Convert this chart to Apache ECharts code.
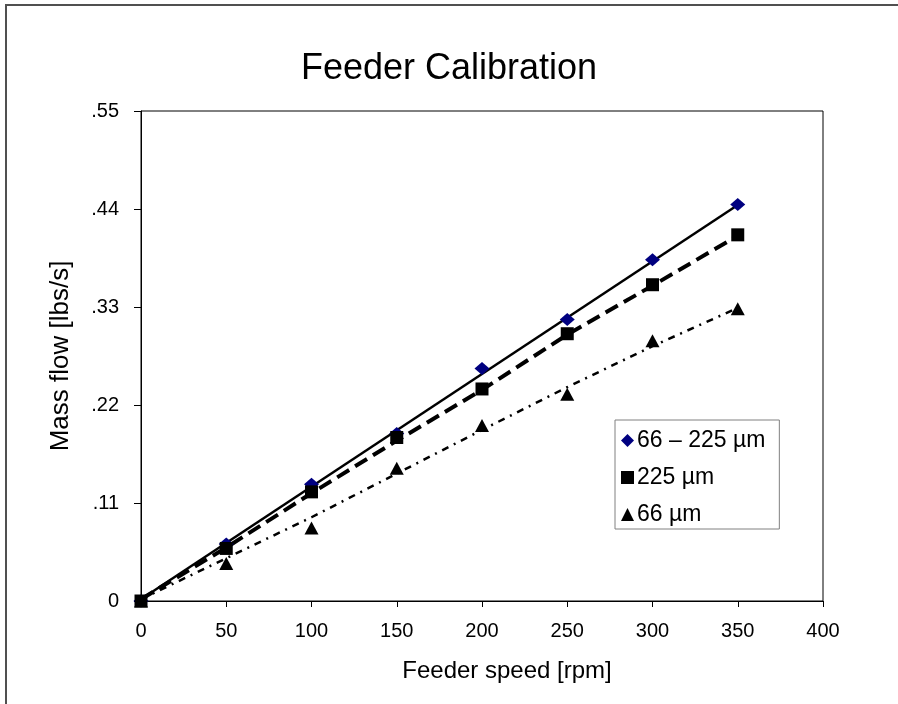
<!DOCTYPE html>
<html>
<head>
<meta charset="utf-8">
<script src="https://cdn.jsdelivr.net/npm/echarts@6/dist/echarts.min.js"></script>
<style>
  html, body { margin: 0; padding: 0; background: #fff; }
  #chart { width: 898px; height: 704px; }
</style>
</head>
<body>
<div id="chart"></div>
<script>
// ---- data ----
const speeds = [0, 50, 100, 150, 200, 250, 300, 350];            // Feeder speed [rpm]
const flowMixed = [0.000, 0.064, 0.131, 0.188, 0.261, 0.316, 0.383, 0.445]; // 66 – 225 µm
const flow225 = [0.000, 0.059, 0.1225, 0.1835, 0.238, 0.300, 0.355, 0.411]; // 225 µm
const flow66 = [0.000, 0.042, 0.082, 0.149, 0.197, 0.232, 0.292, 0.328];    // 66 µm
// trend lines as drawn in the picture
const trendMixedX = [0, 350];
const trendMixedY = [0.002, 0.4445];
const trend225 = [0.002, 0.060, 0.121, 0.180, 0.237, 0.299, 0.354, 0.410];
const trend66 = [0.002, 0.048, 0.094, 0.143, 0.192, 0.240, 0.286, 0.329];
const yTickLabels = ['0', '.11', '.22', '.33', '.44', '.55'];
const seriesNames = ['66 – 225 µm', '225 µm', '66 µm'];

const pairs = (xs, ys) => xs.map((x, i) => [x, ys[i]]);
const FONT = 'Liberation Sans, Arial, sans-serif';

const chart = echarts.init(document.getElementById('chart'), null, { renderer: 'canvas' });
chart.setOption({
  backgroundColor: '#ffffff',
  animation: false,
  textStyle: { fontFamily: FONT, color: '#000' },
  title: {
    text: 'Feeder Calibration',
    left: 'center',
    top: 46,
    textStyle: { fontFamily: FONT, fontSize: 36, fontWeight: 'normal', color: '#000' }
  },
  graphic: [{
    type: 'rect',
    shape: { x: 6, y: 5, width: 1200, height: 1200 },
    style: { fill: 'none', stroke: '#505050', lineWidth: 2 },
    silent: true
  }],
  grid: {
    left: 141, top: 111, right: 75, bottom: 103,
    show: true, borderColor: '#000', borderWidth: 1, backgroundColor: 'transparent'
  },
  legend: {
    orient: 'vertical',
    left: 615, top: 420,
    padding: [9, 14, 3, 6],
    itemGap: 14,
    itemWidth: 13, itemHeight: 13,
    borderColor: '#808080', borderWidth: 1,
    backgroundColor: '#fff',
    textStyle: { fontFamily: FONT, fontSize: 23, color: '#000', padding: [0, 0, 0, -2] },
    data: seriesNames
  },
  xAxis: {
    type: 'value', min: 0, max: 400, interval: 50,
    name: 'Feeder speed [rpm]', nameLocation: 'middle', nameGap: 58,
    nameTextStyle: { fontFamily: FONT, fontSize: 24, color: '#000', padding: [0, 0, 0, 50] },
    axisLine: { show: true, lineStyle: { color: '#000', width: 1 } },
    axisTick: { show: true, inside: false, length: 6, lineStyle: { color: '#000' } },
    axisLabel: { fontFamily: FONT, fontSize: 20, color: '#000', margin: 20 },
    splitLine: { show: false }
  },
  yAxis: {
    type: 'value', min: 0, max: 0.55, interval: 0.11,
    name: 'Mass flow [lbs/s]', nameLocation: 'middle', nameGap: 67,
    nameTextStyle: { fontFamily: FONT, fontSize: 26, color: '#000' },
    axisLine: { show: true, lineStyle: { color: '#000', width: 1 } },
    axisTick: { show: true, inside: false, length: 7, lineStyle: { color: '#000' } },
    axisLabel: {
      fontFamily: FONT, fontSize: 20, color: '#000', margin: 22,
      formatter: (v) => yTickLabels[Math.round(v / 0.11)]
    },
    splitLine: { show: false }
  },
  series: [
    {
      name: 'trendMixed', type: 'line', data: pairs(trendMixedX, trendMixedY),
      showSymbol: false, symbol: 'none', silent: true,
      lineStyle: { color: '#000', width: 2.5, type: 'solid' }, z: 2
    },
    {
      name: 'trend225', type: 'line', data: pairs(speeds, trend225),
      showSymbol: false, symbol: 'none', silent: true,
      lineStyle: { color: '#000', width: 4, type: [14, 7] }, z: 2
    },
    {
      name: 'trend66', type: 'line', data: pairs(speeds, trend66),
      showSymbol: false, symbol: 'none', silent: true,
      lineStyle: { color: '#000', width: 2.5, type: [7, 6, 2, 6] }, z: 2
    },
    {
      name: seriesNames[0], type: 'scatter', data: pairs(speeds, flowMixed),
      symbol: 'diamond', symbolSize: [15, 13],
      itemStyle: { color: '#000080', opacity: 1 }, z: 3
    },
    {
      name: seriesNames[1], type: 'scatter', data: pairs(speeds, flow225),
      symbol: 'rect', symbolSize: 13,
      itemStyle: { color: '#000', opacity: 1 }, z: 4
    },
    {
      name: seriesNames[2], type: 'scatter', data: pairs(speeds, flow66),
      symbol: 'triangle', symbolSize: [14, 13],
      itemStyle: { color: '#000', opacity: 1 }, z: 5
    }
  ]
});
</script>
</body>
</html>
